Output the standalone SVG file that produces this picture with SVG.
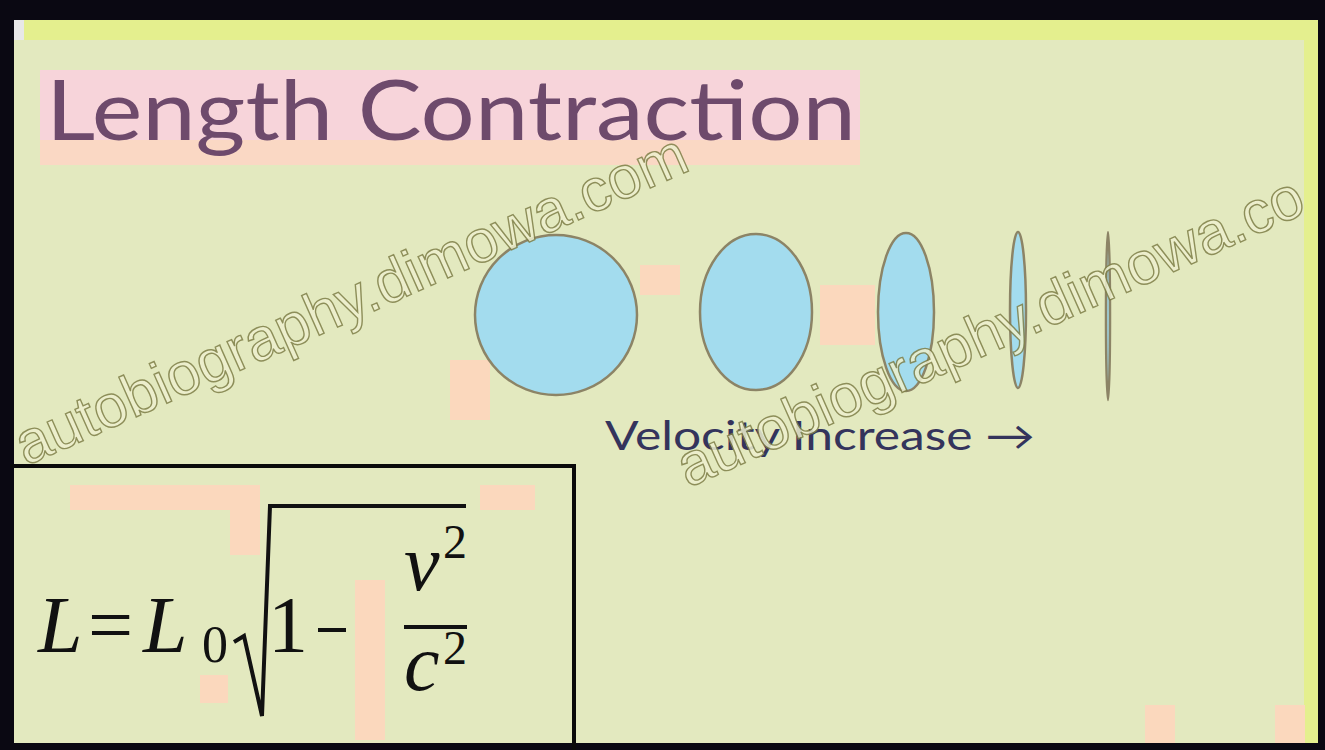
<svg xmlns="http://www.w3.org/2000/svg" width="1325" height="750" viewBox="0 0 1325 750">
<style>
.ell{fill:#a3dcee;stroke:#8c8466;stroke-width:2.5}
.comic{font-family:"Comic Sans MS","Lato","Open Sans",sans-serif}
.math{font-family:"Liberation Serif","DejaVu Serif",serif;fill:#111}
.wm{font-family:"Liberation Sans","Arial",sans-serif;font-size:60px;fill:#eef0cf;stroke:#7f7f48;stroke-width:1.4;opacity:0.85}
.blk{fill:#fbd8bd}
</style>
<rect x="0" y="0" width="1325" height="750" fill="#0a0812"/>
<rect x="14" y="20" width="1304" height="723" fill="#e3e9bf"/>
<rect x="14" y="20" width="1304" height="20" fill="#e4ef8e"/>
<rect x="1304" y="20" width="14" height="723" fill="#e4ef8e"/>
<rect x="14" y="20" width="10" height="20" fill="#e8e8e8"/>
<g id="artifacts">
<rect x="40" y="70" width="820" height="95" style="fill:#f7d4da"/>
<rect x="40" y="140" width="820" height="25" style="fill:#fad8c4"/>
<rect class="blk" x="450" y="360" width="40" height="60"/>
<rect class="blk" x="640" y="265" width="40" height="30"/>
<rect class="blk" x="820" y="285" width="55" height="60"/>
<rect class="blk" x="70" y="485" width="160" height="25"/>
<rect class="blk" x="230" y="485" width="30" height="70"/>
<rect class="blk" x="480" y="485" width="55" height="25"/>
<rect class="blk" x="355" y="580" width="30" height="160"/>
<rect class="blk" x="200" y="675" width="28" height="28"/>
<rect class="blk" x="1145" y="705" width="30" height="38"/>
<rect class="blk" x="1275" y="705" width="30" height="38"/>
</g>
<g id="title">
<text class="comic" x="46" y="140" font-size="84" fill="#6e4a6c" textLength="810" lengthAdjust="spacingAndGlyphs">Length Contraction</text>
</g>
<g id="shapes">
<ellipse class="ell" cx="556" cy="315" rx="81" ry="80"/>
<ellipse class="ell" cx="756" cy="312" rx="56" ry="78"/>
<ellipse class="ell" cx="906" cy="312" rx="28" ry="79"/>
<ellipse class="ell" cx="1018" cy="310" rx="8" ry="78"/>
<ellipse class="ell" cx="1108" cy="316" rx="2" ry="84"/>
</g>
<g id="velocity">
<text class="comic" x="605" y="450" font-size="40" fill="#34345c" textLength="430" lengthAdjust="spacingAndGlyphs">Velocity Increase →</text>
</g>
<g id="formula">
<path d="M10 466 H574 V750" fill="none" stroke="#0a0a0a" stroke-width="4"/>
<text class="math" x="38" y="652" font-size="80" font-style="italic">L</text>
<text class="math" x="88" y="652" font-size="80">=</text>
<text class="math" x="143" y="652" font-size="80" font-style="italic">L</text>
<text class="math" x="202" y="662" font-size="52">0</text>
<path d="M234 642 L244 636 L262 716 L270 506 H466" fill="none" stroke="#111" stroke-width="4" stroke-linejoin="miter"/>
<text class="math" x="268" y="652" font-size="80">1</text>
<line x1="318" y1="630" x2="346" y2="630" stroke="#111" stroke-width="4"/>
<text class="math" x="404" y="590" font-size="80" font-style="italic">v</text>
<text class="math" x="443" y="558" font-size="48">2</text>
<line x1="404" y1="627" x2="467" y2="627" stroke="#111" stroke-width="4"/>
<text class="math" x="404" y="690" font-size="80" font-style="italic">c</text>
<text class="math" x="443" y="664" font-size="48">2</text>
</g>
<g id="watermark">
<text class="wm" transform="translate(26,466) rotate(-24)">autobiography.dimowa.com</text>
<text class="wm" transform="translate(688,488) rotate(-24)">autobiography.dimowa.co</text>
</g>
</svg>
